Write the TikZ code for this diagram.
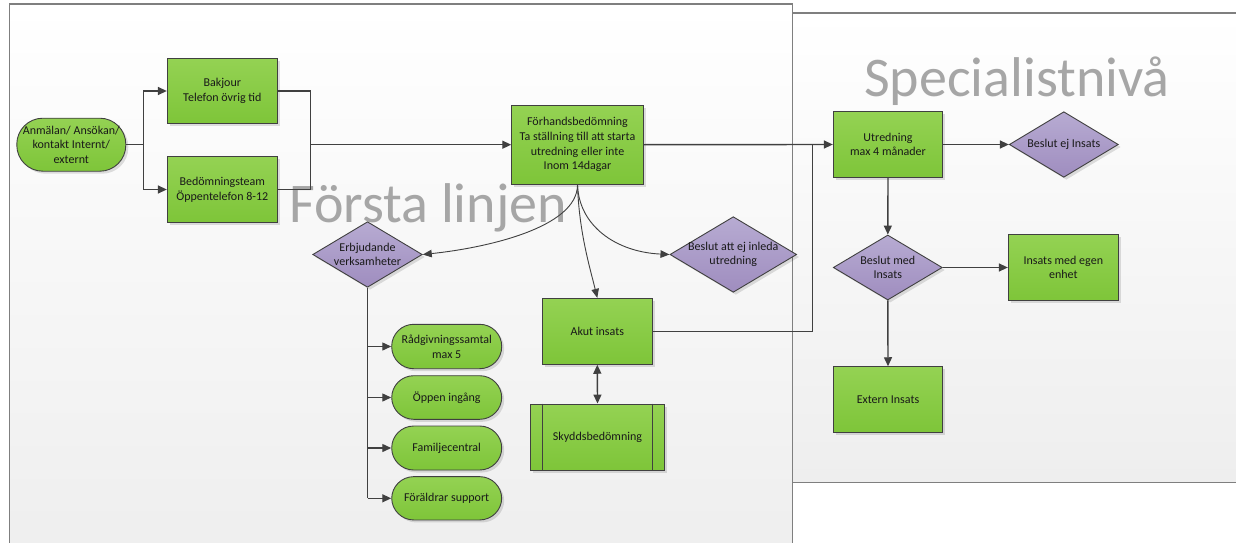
\documentclass[tikz,border=0pt]{standalone}
\usepackage{fontspec}
\setmainfont{Carlito}
\usetikzlibrary{arrows.meta,shapes.geometric,shadows}

\definecolor{greentop}{HTML}{94D253}
\definecolor{greenbot}{HTML}{7EC539}
\definecolor{purptop}{HTML}{B7ABD2}
\definecolor{purpbot}{HTML}{9F8DBF}
\definecolor{edge}{HTML}{404040}
\definecolor{poolline}{HTML}{7F7F7F}
\definecolor{pooltitle}{HTML}{A6A6A6}
\definecolor{poolbot}{HTML}{EEEEEE}

\tikzset{
  every node/.style={font=\fontsize{12}{14.7}\selectfont, text=black!90},
  softshadow/.style={drop shadow={shadow xshift=2.5pt, shadow yshift=-2.5pt, fill=black, opacity=0.12}},
  box/.style={rectangle, draw=edge, line width=0.9pt, top color=greentop, bottom color=greenbot,
    minimum width=110pt, minimum height=66pt, inner sep=0pt, align=center, softshadow},
  term/.style={box, rounded corners=22pt, minimum height=44pt},
  dec/.style={diamond, draw=edge, line width=0.9pt, top color=purptop, bottom color=purpbot,
    minimum width=109pt, minimum height=66pt, inner sep=0pt, softshadow},
  dlabel/.style={align=center, inner sep=0pt},
  pool/.style={draw=poolline, line width=1.2pt, top color=white, bottom color=poolbot},
  pooltext/.style={font=\fontsize{56}{64}\selectfont, text=pooltitle, inner sep=0pt, anchor=base west},
  link/.style={draw=edge, line width=1.4pt},
  conn/.style={link, -{Triangle[length=9pt,width=8pt]}},
  twoway/.style={link, {Triangle[length=9pt,width=8pt]}-{Triangle[length=9pt,width=8pt]}},
  curve/.style={draw=edge, line width=0.9pt, -{Triangle[length=9pt,width=7.5pt]}},
}

\begin{document}
\begin{tikzpicture}[x=1pt, y=-1pt]
  \useasboundingbox (0,0) rectangle (1236,543);

  % swimlane pools
  \path[pool] (9.5,4) rectangle (792.7,560);
  \path[pool] (792.7,13) rectangle (1260,482.7);
  \node[pooltext] (t1) at (289,222.7) {Första linjen};
  \node[pooltext] (t2) at (864,96.7) {Specialistnivå};

  % intake
  \node[term, minimum width=109pt, minimum height=53pt, rounded corners=26pt] (an) at (71.3,144.7)
    {Anmälan/ Ansökan/\\kontakt Internt/\\externt};
  \node[box, minimum height=65.5pt] (bk) at (222.3,91) {Bakjour\\Telefon övrig tid};
  \node[box, minimum height=65.5pt] (bt) at (222.3,189.5) {Bedömningsteam\\Öppentelefon 8-12};
  \node[box, minimum width=131.6pt, minimum height=79.3pt] (fh) at (577.5,144.7)
    {Förhandsbedömning\\Ta ställning till att starta\\utredning eller inte\\Inom 14dagar};

  % first line
  \node[dec, minimum width=109.6pt, minimum height=65.6pt,
    label={[dlabel]center:{Erbjudande\\verksamheter}}] (eb) at (367.5,254.5) {};
  \node[dec, minimum width=126.7pt, minimum height=75.6pt,
    label={[dlabel]center:{Beslut att ej inleda\\utredning}}] (bn) at (733.3,254.5) {};
  \node[box] (ak) at (597.3,331.3) {Akut insats};
  \node[box, minimum width=133.6pt] (sk) at (597.5,437) {Skyddsbedömning};
  \draw[edge, line width=0.9pt] ([xshift=12.6pt]sk.north west) -- ([xshift=12.6pt]sk.south west)
    ([xshift=-12.6pt]sk.north east) -- ([xshift=-12.6pt]sk.south east);

  \node[term, minimum height=44.4pt] (r1) at (446.7,346.5) {Rådgivningssamtal\\max 5};
  \node[term, minimum height=43.6pt] (r2) at (446.7,397.5) {Öppen ingång};
  \node[term] (r3) at (446.7,448) {Familjecentral};
  \node[term, minimum height=43.3pt] (r4) at (446.7,498.3) {Föräldrar support};

  % specialist level
  \node[box, minimum width=109.4pt, minimum height=65.6pt] (ut) at (888,144.5) {Utredning\\max 4 månader};
  \node[dec, minimum height=65.6pt, label={[dlabel]center:{Beslut ej Insats}}] (bei) at (1063.8,144.5) {};
  \node[dec, minimum height=65pt, label={[dlabel]center:{Beslut med\\Insats}}] (bmi) at (887.8,267.5) {};
  \node[box, minimum height=66.4pt] (ime) at (1063.3,267.5) {Insats med egen\\enhet};
  \node[box, minimum width=109.4pt, minimum height=65.6pt] (ei) at (888,399.5) {Extern Insats};

  % junction points
  \coordinate (j1) at (143.3,144.7);
  \coordinate (j2) at (310.7,144.7);
  \coordinate (j3) at (812.3,144.7);

  % connectors
  \draw[link] (an.east) -- (j1);
  \draw[conn] (j1) |- (bk.west);
  \draw[conn] (j1) |- (bt.west);
  \draw[link] (bk.east) -| (j2);
  \draw[link] (bt.east) -| (j2);
  \draw[conn] (j2) -- (fh.west);
  \draw[conn] (fh.east) -- (ut.west);
  \draw[link] (ak.east) -| (j3);

  \draw[curve] (fh.south) .. controls (577.5,228) and (485,248) .. (eb.east);
  \draw[curve] (fh.south) .. controls (579,226) and (616,252) .. (bn.west);
  \draw[curve] (fh.south) .. controls (579,232) and (590,268) .. (ak.north);
  \draw[twoway] (ak.south) -- (sk.north);

  \draw[link] (eb.south) -- (eb.south |- r4.west);
  \foreach \t in {r1,r2,r3,r4}
    \draw[conn] (eb.south |- \t.west) -- (\t.west);

  \draw[conn] (ut.east) -- (bei.west);
  \draw[conn] (ut.south) -- (bmi.north);
  \draw[conn] (bmi.east) -- (ime.west);
  \draw[conn] (bmi.south) -- (ei.north);
\end{tikzpicture}
\end{document}
